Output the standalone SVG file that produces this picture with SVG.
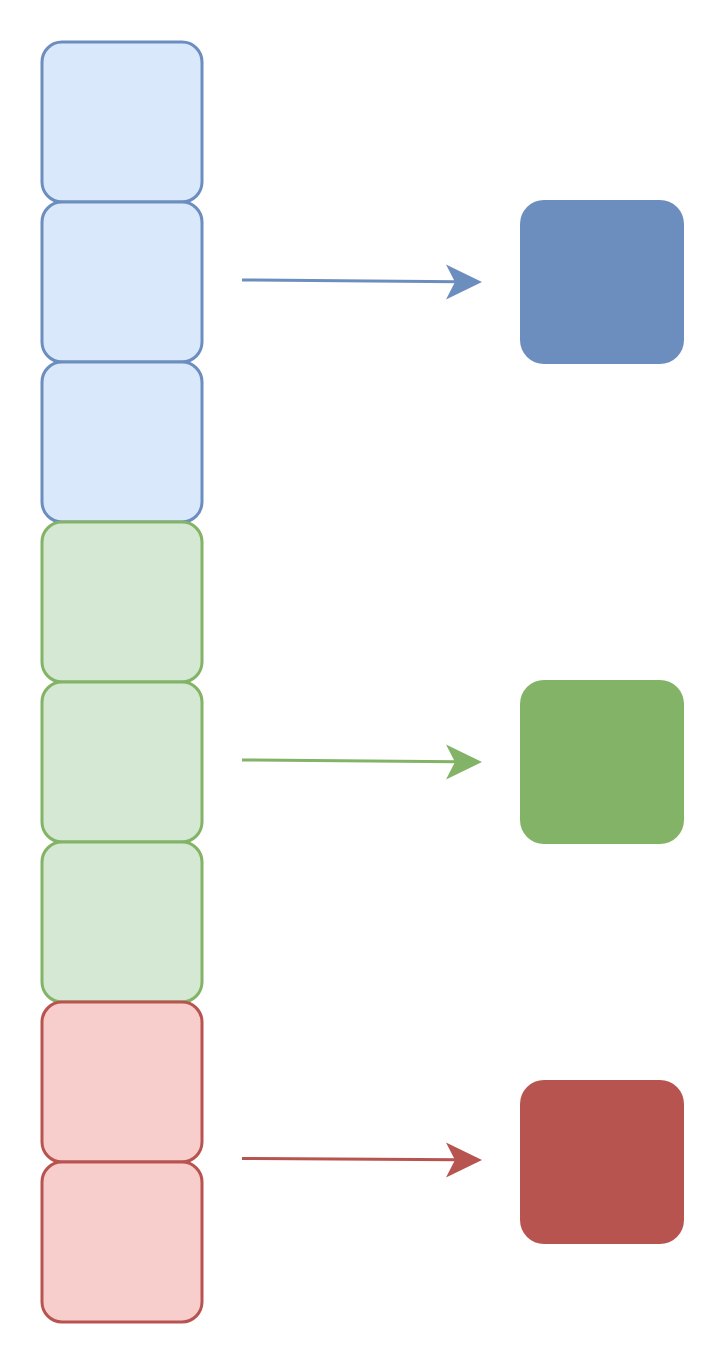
<svg xmlns="http://www.w3.org/2000/svg" width="728" height="1364" viewBox="0 0 728 1364">
<style>
.b{fill:#dae8fc;stroke:#6c8ebf;stroke-width:3}
.g{fill:#d5e8d4;stroke:#82b366;stroke-width:3}
.r{fill:#f8cecc;stroke:#b85450;stroke-width:3}
.c{fill:none;stroke-width:3}
</style>
<rect width="728" height="1364" fill="#ffffff"/>
<g id="blue1"><rect class="b" x="42" y="42" width="160" height="160" rx="20"/></g>
<g id="blue2"><rect class="b" x="42" y="202" width="160" height="160" rx="20"/></g>
<g id="blue3"><rect class="b" x="42" y="362" width="160" height="160" rx="20"/></g>
<g id="green1"><rect class="g" x="42" y="522" width="160" height="160" rx="20"/></g>
<g id="green2"><rect class="g" x="42" y="682" width="160" height="160" rx="20"/></g>
<g id="green3"><rect class="g" x="42" y="842" width="160" height="160" rx="20"/></g>
<g id="red1"><rect class="r" x="42" y="1002" width="160" height="160" rx="20"/></g>
<g id="red2"><rect class="r" x="42" y="1162" width="160" height="160" rx="20"/></g>
<g id="blueTarget"><rect x="520" y="200" width="164" height="164" rx="24" fill="#6c8ebf"/></g>
<g id="greenTarget"><rect x="520" y="680" width="164" height="164" rx="24" fill="#82b366"/></g>
<g id="redTarget"><rect x="520" y="1080" width="164" height="164" rx="24" fill="#b85450"/></g>
<g id="connectors">
<line class="c" x1="242" y1="280" x2="458" y2="281.8" stroke="#6c8ebf"/>
<polygon points="482,282 446,264.5 455,282 446,299.5" fill="#6c8ebf"/>
<line class="c" x1="242" y1="760" x2="458" y2="761.8" stroke="#82b366"/>
<polygon points="482,762 446,744.5 455,762 446,779.5" fill="#82b366"/>
<line class="c" x1="242" y1="1158.5" x2="458" y2="1159.8" stroke="#b85450"/>
<polygon points="482,1160 446,1142.5 455,1160 446,1177.5" fill="#b85450"/>
</g>
</svg>
